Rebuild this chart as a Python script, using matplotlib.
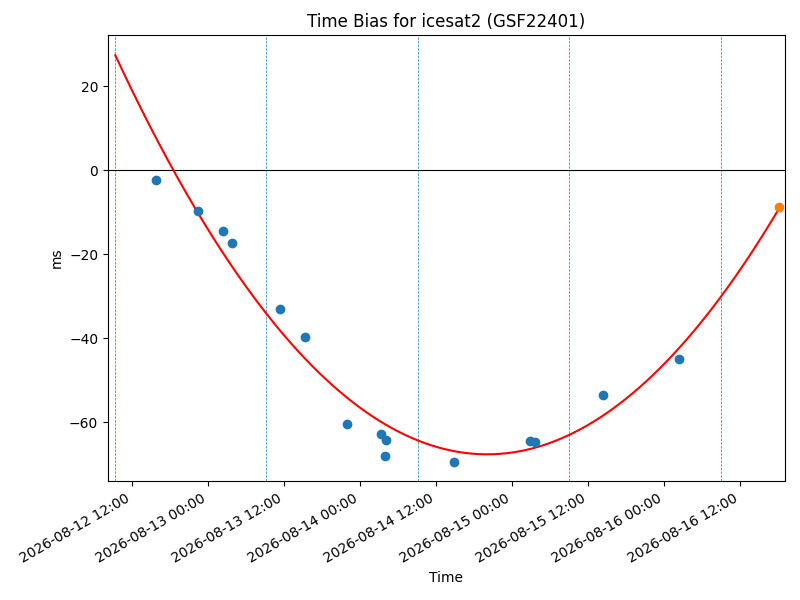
import matplotlib
matplotlib.use("Agg")
import matplotlib.pyplot as plt
import matplotlib.dates as mdates
import numpy as np
import pandas as pd

# Observed time-bias points
obs_times = ["2026-08-12 15:44", "2026-08-12 22:25", "2026-08-13 02:22", "2026-08-13 03:47",
             "2026-08-13 11:22", "2026-08-13 15:16", "2026-08-13 21:57", "2026-08-14 03:16",
             "2026-08-14 04:10", "2026-08-14 04:01", "2026-08-14 14:48", "2026-08-15 02:48",
             "2026-08-15 03:35", "2026-08-15 14:19", "2026-08-16 02:18"]
obs_values = [-2.4, -9.8, -14.4, -17.4, -32.9, -39.6, -60.4, -62.8,
              -64.2, -68.0, -69.4, -64.4, -64.7, -53.4, -44.8]

# Predicted point
pred_time = ["2026-08-16 18:10"]
pred_value = [-8.8]

# Day boundaries (vertical dashed lines)
day_lines = ["2026-08-12 09:22", "2026-08-13 09:10", "2026-08-14 09:10",
             "2026-08-15 09:02", "2026-08-16 09:04"]

# Quadratic fit parameters (vertex form, hours)
fit_start = "2026-08-12 09:22"
fit_end = "2026-08-16 18:10"
fit_min_time = "2026-08-14 20:05"
fit_min_value = -67.6
fit_curvature = 0.02755  # ms per hour^2

x_limits = ["2026-08-12 08:13", "2026-08-16 19:04"]
y_limits = [-74.0, 32.2]

t_obs = pd.to_datetime(obs_times)
t_pred = pd.to_datetime(pred_time)
t_fit = pd.date_range(pd.Timestamp(fit_start), pd.Timestamp(fit_end), periods=300)
hrs = (t_fit - pd.Timestamp(fit_min_time)) / pd.Timedelta(hours=1)
fit_vals = fit_min_value + fit_curvature * np.asarray(hrs) ** 2

fig, ax = plt.subplots(figsize=(8, 6), dpi=100)
fig.subplots_adjust(left=0.135, right=0.981, top=0.9417, bottom=0.198)

for d in pd.to_datetime(day_lines):
    ax.axvline(d, color="C0", linestyle="--", linewidth=0.5)
ax.axhline(0, color="black", linewidth=0.8)
ax.plot(t_fit, fit_vals, color="red", linewidth=1.5)
ax.scatter(t_obs, obs_values, color="C0", zorder=3)
ax.scatter(t_pred, pred_value, color="C1", zorder=3)

ax.set_xlim(pd.to_datetime(x_limits))
ax.set_ylim(y_limits)
ax.xaxis.set_major_locator(mdates.HourLocator(byhour=[0, 12]))
ax.xaxis.set_major_formatter(mdates.DateFormatter("%Y-%m-%d %H:%M"))
for lbl in ax.get_xticklabels():
    lbl.set_rotation(30)
    lbl.set_ha("right")

ax.set_title("Time Bias for icesat2 (GSF22401)")
ax.set_xlabel("Time")
ax.set_ylabel("ms")

fig.savefig("out.png", dpi=100)
